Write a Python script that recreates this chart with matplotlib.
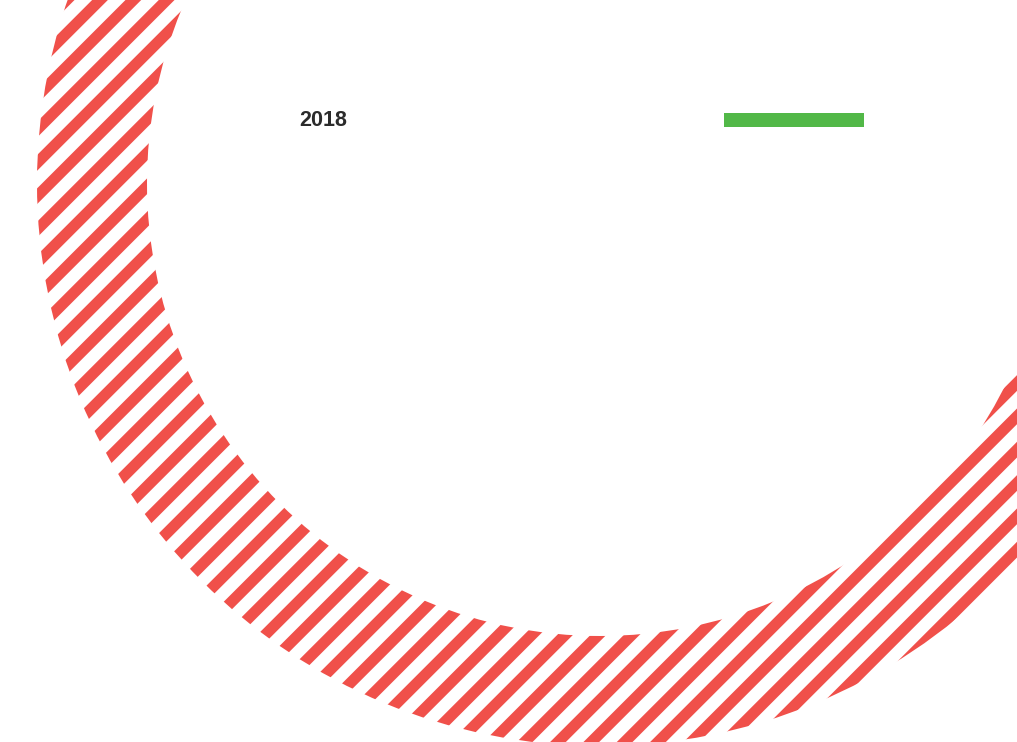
import matplotlib
matplotlib.use("Agg")
import matplotlib.pyplot as plt
from matplotlib.patches import Rectangle

# =========================
# Data
# =========================

years = ["2018"]
shares = [100]
ring_color = "#F0504A"
legend_color = "#52B848"

# =========================
# Figure (pixel coordinates)
# =========================

W, H = 1017, 742
plt.rcParams["hatch.linewidth"] = 8

fig = plt.figure(figsize=(W / 100, H / 100), dpi=100)
ax = fig.add_axes([0, 0, 1, 1])

ax.pie(shares, center=(600, 183), radius=563, startangle=90,
       wedgeprops=dict(width=110, facecolor="white", edgecolor=ring_color,
                       linewidth=0, hatch="/"))

ax.set_xlim(0, W)
ax.set_ylim(H, 0)
ax.set_aspect("equal")
ax.axis("off")

# title
ax.text(323, 121, years[0], ha="center", va="center", fontsize=15.5,
        fontweight="bold", color="#2b2b2b", family="Liberation Sans")

# legend bar
ax.add_patch(Rectangle((724, 113), 140, 14, color=legend_color, lw=0))

fig.savefig("out.png", dpi=100)
